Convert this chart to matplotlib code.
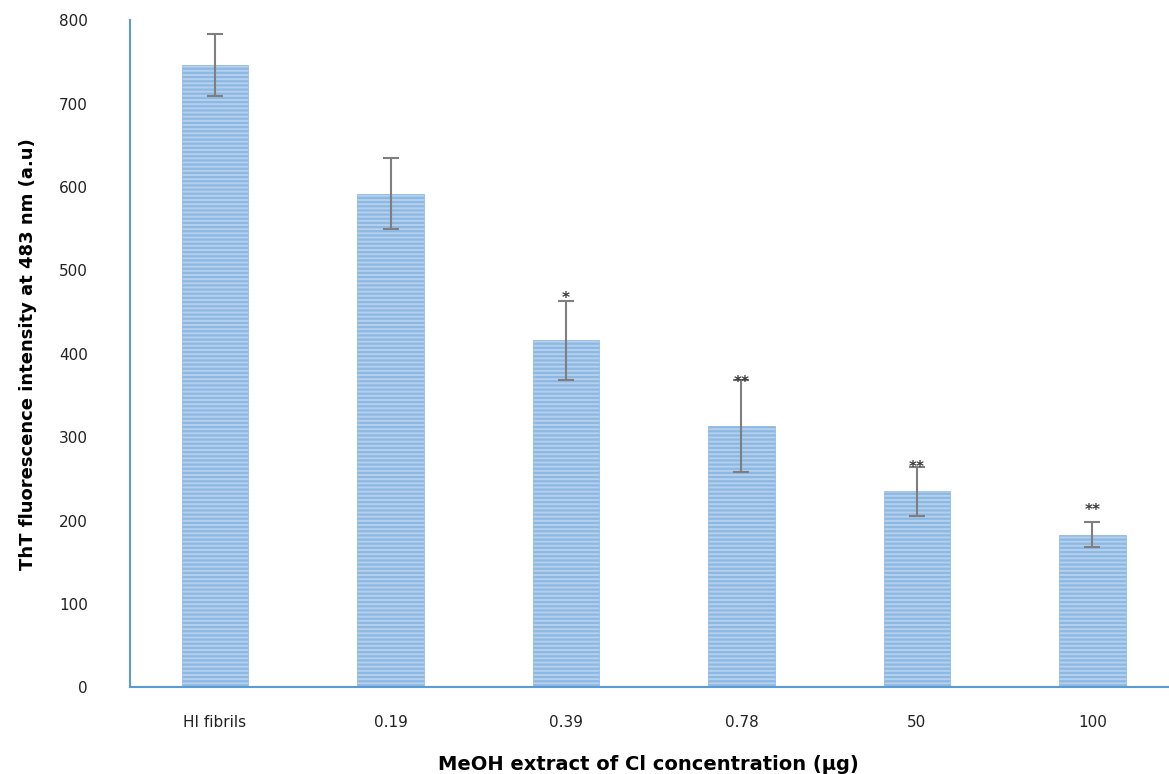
import matplotlib
matplotlib.use('Agg')
import matplotlib.pyplot as plt
import numpy as np

# values
categories = ['HI fibrils', '0.19', '0.39', '0.78', '50', '100']
intensity = [746, 592, 416, 313, 235, 183]
errors = [37, 43, 47, 55, 29, 15]
stars = ['', '', '*', '**', '**', '**']
star_y = [0, 0, 466, 365, 264, 212]

plt.rcParams['hatch.linewidth'] = 1.6
plt.rcParams['hatch.color'] = '#5B9BD5'

fig = plt.figure(figsize=(11.69, 7.74), dpi=100)
ax = fig.add_axes([0.111, 0.112, 0.888, 0.862])

x = np.arange(len(categories))
ax.bar(x, intensity, width=0.38, color='#B4D0EE', edgecolor='#8DB8E2',
       hatch='----', linewidth=0.5, zorder=2)
ax.errorbar(x, intensity, yerr=errors, fmt='none', ecolor='#7F7F7F',
            elinewidth=1.5, capsize=5.5, capthick=1.5, zorder=3)

for i in range(len(categories)):
    if stars[i]:
        ax.text(x[i], star_y[i], stars[i], ha='center', va='center',
                fontsize=11, fontweight='bold', color='#3A3A3A')

ax.set_xlim(-0.486, 5.43)
ax.set_ylim(0, 800)
ax.set_yticks(range(0, 801, 100))
ax.set_xticks(x)
ax.set_xticklabels(categories)
ax.tick_params(axis='both', length=0, labelsize=11, colors='#222222')
ax.tick_params(axis='y', pad=30)
ax.tick_params(axis='x', pad=20)

for s in ['top', 'right']:
    ax.spines[s].set_visible(False)
for s in ['left', 'bottom']:
    ax.spines[s].set_color('#5B9BD5')
    ax.spines[s].set_linewidth(1.5)

ax.set_ylabel('ThT fluorescence intensity at 483 nm (a.u)', fontsize=13,
              fontweight='bold', labelpad=16)
ax.set_xlabel('MeOH extract of Cl concentration (µg)', fontsize=14,
              fontweight='bold', labelpad=18)

plt.savefig('out.png', dpi=100)
